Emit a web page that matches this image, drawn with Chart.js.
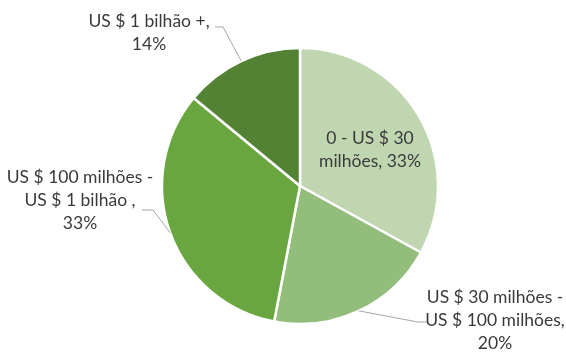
<!DOCTYPE html>
<html>
<head>
<meta charset="utf-8">
<script src="https://cdn.jsdelivr.net/npm/chart.js@4.4.0/dist/chart.umd.min.js"></script>
<style>
  html, body { margin: 0; padding: 0; background: #fff; }
  #wrap { width: 566px; height: 353px; position: relative; }
</style>
</head>
<body>
<div id="wrap"><canvas id="fundingChart"></canvas></div>
<script>
// Funding bands and their share of companies
const categories = ['0 - US $ 30 milhões', 'US $ 30 milhões - US $ 100 milhões', 'US $ 100 milhões - US $ 1 bilhão ', 'US $ 1 bilhão +'];
const shares = [33, 20, 33, 14];
const sliceColors = ['#bfd6b1', '#93bd7b', '#6aa63f', '#548235'];

// where each label sits: inside the slice, or outside with a leader line.
// breaks = word indexes that start a new line
const labelLayout = [
  { inside: true, x: 370, y: 150, breaks: [5] },
  { x: 495, y: 320, breaks: [5, 9], elbow: [418, 322], end: [427, 322] },
  { x: 80, y: 200, breaks: [5, 10], elbow: [153, 210], end: [142, 210] },
  { x: 149, y: 33, breaks: [5], elbow: [223, 27], end: [215, 27] }
];

const FONT = '17.5px Lato';
const LINE_H = 23;

function splitLines(text, breaks) {
  const words = text.split(/\s+/);
  const lines = [];
  let cur = [];
  words.forEach((w, i) => {
    if (breaks.includes(i) && cur.length) {
      lines.push(cur.join(' '));
      cur = [];
    }
    cur.push(w);
  });
  if (cur.length) lines.push(cur.join(' '));
  return lines;
}

const sliceLabels = {
  id: 'sliceLabels',
  afterDatasetsDraw(chart) {
    const ctx = chart.ctx;
    const meta = chart.getDatasetMeta(0);
    ctx.save();
    ctx.font = FONT;
    ctx.fillStyle = '#3a3a3a';
    ctx.textAlign = 'center';
    ctx.textBaseline = 'middle';
    meta.data.forEach((arc, i) => {
      const lay = labelLayout[i];
      const text = categories[i] + ', ' + shares[i] + '%';
      const lines = splitLines(text, lay.breaks);

      if (!lay.inside) {
        // leader line from the middle of the slice's outer edge
        const p = arc.getProps(['x', 'y', 'startAngle', 'endAngle', 'outerRadius'], true);
        const mid = (p.startAngle + p.endAngle) / 2;
        const sx = p.x + Math.cos(mid) * p.outerRadius;
        const sy = p.y + Math.sin(mid) * p.outerRadius;
        ctx.beginPath();
        ctx.strokeStyle = '#a6a6a6';
        ctx.lineWidth = 1;
        ctx.moveTo(sx, sy);
        ctx.lineTo(lay.elbow[0], lay.elbow[1]);
        ctx.lineTo(lay.end[0], lay.end[1]);
        ctx.stroke();
      }

      const top = lay.y - (lines.length - 1) * LINE_H / 2;
      lines.forEach((ln, k) => ctx.fillText(ln, lay.x, top + k * LINE_H));
    });
    ctx.restore();
  }
};

new Chart(document.getElementById('fundingChart'), {
  type: 'pie',
  data: {
    labels: categories,
    datasets: [{
      data: shares,
      backgroundColor: sliceColors,
      borderColor: '#ffffff',
      borderWidth: 2.5
    }]
  },
  options: {
    responsive: true,
    maintainAspectRatio: false,
    animation: false,
    radius: 138,
    layout: { padding: { top: 39, bottom: 20, left: 34, right: 0 } },
    plugins: {
      legend: { display: false },
      tooltip: { enabled: false }
    }
  },
  plugins: [sliceLabels]
});
</script>
</body>
</html>
